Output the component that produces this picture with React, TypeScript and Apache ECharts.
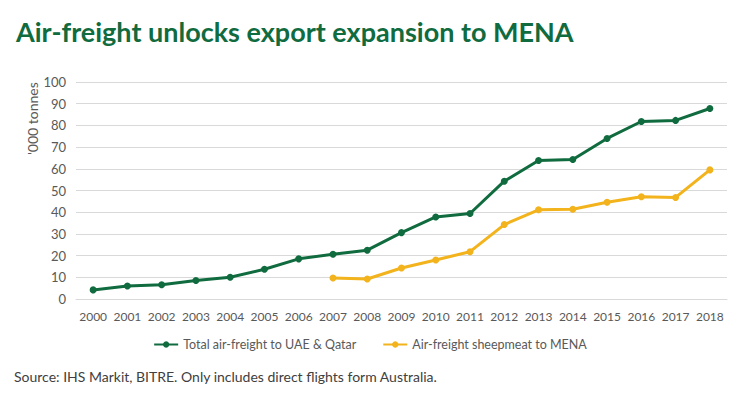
import React, { useEffect, useRef } from "react";
import * as echarts from "echarts";

const years = ["2000","2001","2002","2003","2004","2005","2006","2007","2008","2009","2010","2011","2012","2013","2014","2015","2016","2017","2018"];
const totalAirFreight = [4.2, 6.0, 6.6, 8.5, 10.0, 13.7, 18.5, 20.6, 22.5, 30.6, 37.8, 39.4, 54.3, 63.8, 64.3, 74.0, 81.8, 82.3, 87.8];
const sheepmeat = [null, null, null, null, null, null, null, 9.7, 9.2, 14.3, 18.0, 21.8, 34.3, 41.1, 41.4, 44.6, 47.1, 46.8, 59.5];

const GREEN = "#106b3f";
const YELLOW = "#f2b31c";
const FONT = "Lato, 'Open Sans', sans-serif";

export default function App() {
  const ref = useRef<HTMLDivElement>(null);
  useEffect(() => {
    if (!ref.current) return;
    const chart = echarts.init(ref.current, null, { renderer: "svg" });
    chart.setOption({
      animation: false,
      textStyle: { fontFamily: FONT },
      title: {
        text: "Air-freight unlocks export expansion to MENA",
        left: 11,
        top: 13,
        textStyle: { color: GREEN, fontSize: 27, fontWeight: "bold", fontFamily: FONT },
      },
      graphic: [
        {
          type: "text",
          x: 25,
          y: 155,
          rotation: Math.PI / 2,
          style: { text: "'000 tonnes", fill: "#595959", fontSize: 14, fontFamily: FONT },
        },
        {
          type: "text",
          left: 14,
          top: 369,
          style: { text: "Source: IHS Markit, BITRE. Only includes direct flights form Australia.", fill: "#404040", fontSize: 14, fontFamily: FONT },
        },
      ],
      legend: {
        top: 333,
        left: "center",
        itemGap: 26,
        itemWidth: 24,
        itemHeight: 8,
        textStyle: { color: "#595959", fontSize: 12.5, fontFamily: FONT },
        data: ["Total air-freight to UAE & Qatar", "Air-freight sheepmeat to MENA"],
      },
      grid: { left: 76, right: 13, top: 82, bottom: 96 },
      xAxis: {
        type: "category",
        data: years,
        boundaryGap: true,
        axisLine: { lineStyle: { color: "#d9d9d9" } },
        axisTick: { show: false },
        axisLabel: { color: "#595959", fontSize: 12, margin: 11, interval: 0 },
      },
      yAxis: {
        type: "value",
        min: 0,
        max: 100,
        interval: 10,
        axisLine: { show: false },
        axisTick: { show: false },
        axisLabel: { color: "#595959", fontSize: 13, margin: 10 },
        splitLine: { lineStyle: { color: "#d9d9d9", width: 1 } },
      },
      series: [
        {
          name: "Total air-freight to UAE & Qatar",
          type: "line",
          data: totalAirFreight,
          symbol: "circle",
          symbolSize: 7,
          itemStyle: { color: GREEN },
          lineStyle: { color: GREEN, width: 3 },
        },
        {
          name: "Air-freight sheepmeat to MENA",
          type: "line",
          data: sheepmeat,
          symbol: "circle",
          symbolSize: 7,
          itemStyle: { color: YELLOW },
          lineStyle: { color: YELLOW, width: 3 },
        },
      ],
    });
    return () => chart.dispose();
  }, []);
  return <div ref={ref} style={{ width: 740, height: 395, position: "absolute", left: 0, top: 0 }} />;
}
